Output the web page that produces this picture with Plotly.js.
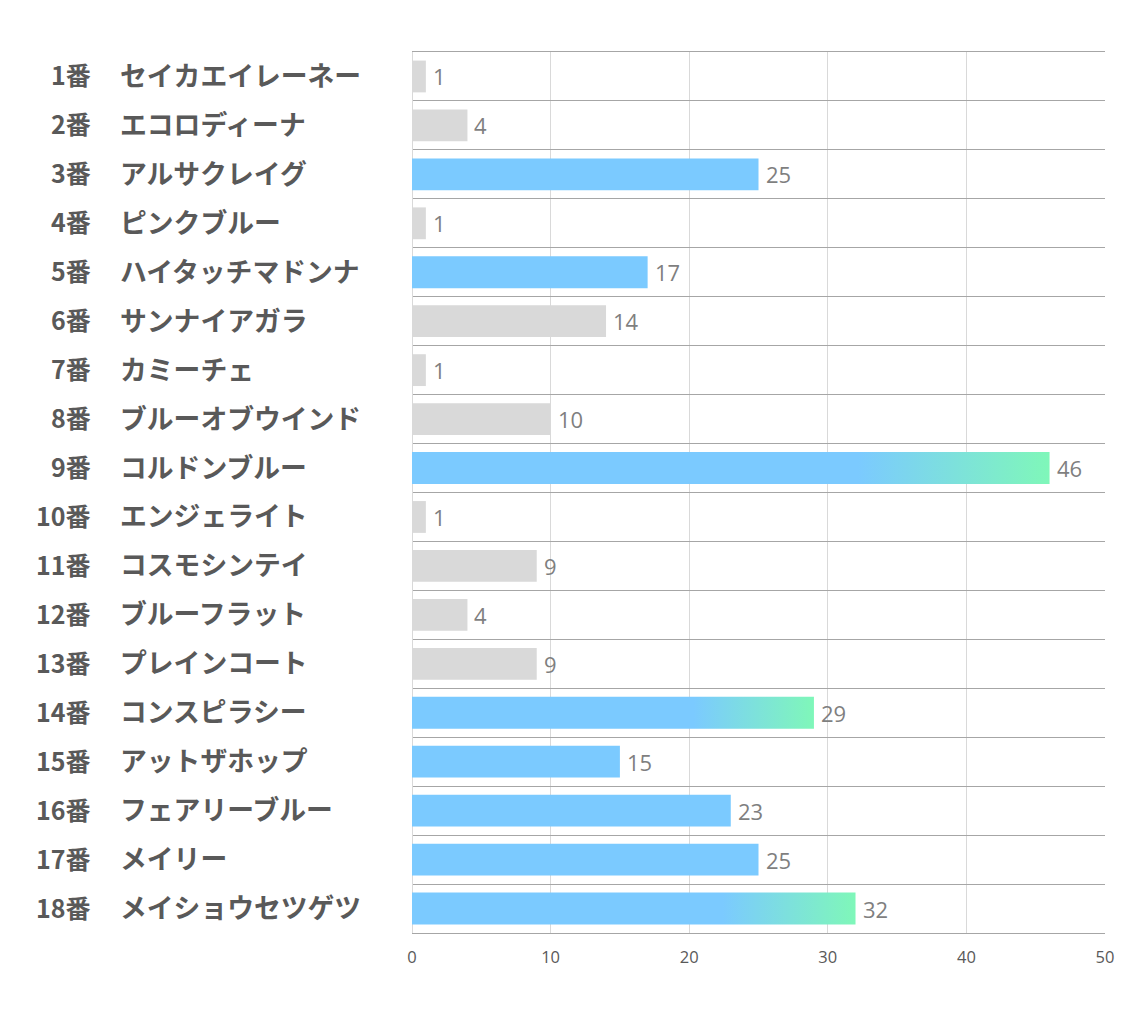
<!DOCTYPE html>
<html>
<head>
<meta charset="utf-8">
<script src="https://cdn.plot.ly/plotly-3.0.1.min.js"></script>
<style>
html,body{margin:0;padding:0;background:#fff;}
#chart{width:1134px;height:1020px;}
</style>
</head>
<body>
<div id="chart"></div>
<script>
const numbers = ["1番","2番","3番","4番","5番","6番","7番","8番","9番","10番","11番","12番","13番","14番","15番","16番","17番","18番"];
const names = ["セイカエイレーネー","エコロディーナ","アルサクレイグ","ピンクブルー","ハイタッチマドンナ","サンナイアガラ","カミーチェ","ブルーオブウインド","コルドンブルー","エンジェライト","コスモシンテイ","ブルーフラット","プレインコート","コンスピラシー","アットザホップ","フェアリーブルー","メイリー","メイショウセツゲツ"];
const values = [1,4,25,1,17,14,1,10,46,1,9,4,9,29,15,23,25,32];
const xTicks = [0,10,20,30,40,50];

const GRAY = "#D9D9D9", BLUE = "#7BCAFF", GREEN = "#7FF7B9";
// rank-based styling: top 3 gradient, next 5 blue, rest gray
const order = values.map((v,i)=>i).sort((a,b)=>values[b]-values[a]);
const rank = new Array(values.length);
order.forEach((idx,r)=>rank[idx]=r);
const colors = values.map((v,i)=> rank[i] < 8 ? BLUE : GRAY);
const gradIdx = values.map((v,i)=>i).filter(i=>rank[i] < 3);

const trace = {
  type: "bar",
  orientation: "h",
  x: values,
  y: names,
  marker: {color: colors, line: {width: 0}},
  hoverinfo: "none"
};

const L = 412, R = 1105, W = 1134;
const pw = R - L;
const annotations = [];
names.forEach((n,i)=>{
  annotations.push({
    xref: "paper", yref: "y", x: (93 - L)/pw, y: n,
    xanchor: "right", yanchor: "middle", showarrow: false, yshift: 2,
    text: numbers[i],
    font: {family: "Noto Sans CJK JP, sans-serif", size: 25, color: "#595959", weight: 700}
  });
  annotations.push({
    xref: "paper", yref: "y", x: (118 - L)/pw, y: n,
    xanchor: "left", yanchor: "middle", showarrow: false, yshift: 2,
    text: n,
    font: {family: "Noto Sans CJK JP, sans-serif", size: 26.8, color: "#595959", weight: 700}
  });
  annotations.push({
    xref: "x", yref: "y", x: values[i], y: n,
    xanchor: "left", yanchor: "middle", showarrow: false, xshift: 5, yshift: 0,
    text: String(values[i]),
    font: {family: "Open Sans, Noto Sans, sans-serif", size: 22, color: "#7F7F7F"}
  });
});

const layout = {
  width: 1134, height: 1020,
  margin: {l: L, r: W - R, t: 52, b: 87, pad: 0},
  paper_bgcolor: "#fff", plot_bgcolor: "#fff",
  showlegend: false,
  bargap: 0.35,
  xaxis: {
    range: [0, 50], tickvals: xTicks, ticktext: xTicks.map(String),
    showgrid: true, gridcolor: "#D9D9D9", gridwidth: 1,
    zeroline: true, zerolinecolor: "#D9D9D9", zerolinewidth: 1,
    showline: true, mirror: true, linecolor: "#A6A6A6", linewidth: 1,
    ticks: "", ticklen: 0, ticklabelstandoff: 9,
    tickfont: {family: "Open Sans, Noto Sans, sans-serif", size: 16.5, color: "#595959"},
    fixedrange: true
  },
  yaxis: {
    type: "category", autorange: "reversed",
    tickson: "boundaries", showgrid: true, gridcolor: "#A6A6A6", gridwidth: 1,
    showticklabels: false, ticks: "", zeroline: false, showline: false,
    fixedrange: true
  },
  annotations: annotations
};

Plotly.newPlot("chart", [trace], layout, {displayModeBar: false, staticPlot: true}).then(gd=>{
  const svg = gd.querySelector(".main-svg");
  let defs = svg.querySelector("defs");
  const ns = "http://www.w3.org/2000/svg";
  const lg = document.createElementNS(ns, "linearGradient");
  lg.setAttribute("id", "barGrad");
  lg.setAttribute("x1", "0"); lg.setAttribute("y1", "0");
  lg.setAttribute("x2", "1"); lg.setAttribute("y2", "0");
  [[0, BLUE],[0.7, BLUE],[1, GREEN]].forEach(([o,c])=>{
    const s = document.createElementNS(ns, "stop");
    s.setAttribute("offset", o); s.setAttribute("stop-color", c);
    lg.appendChild(s);
  });
  defs.appendChild(lg);
  const paths = gd.querySelectorAll(".trace.bars .point path");
  gradIdx.forEach(i=>{ if (paths[i]) paths[i].style.fill = "url(#barGrad)"; });
});
</script>
</body>
</html>
